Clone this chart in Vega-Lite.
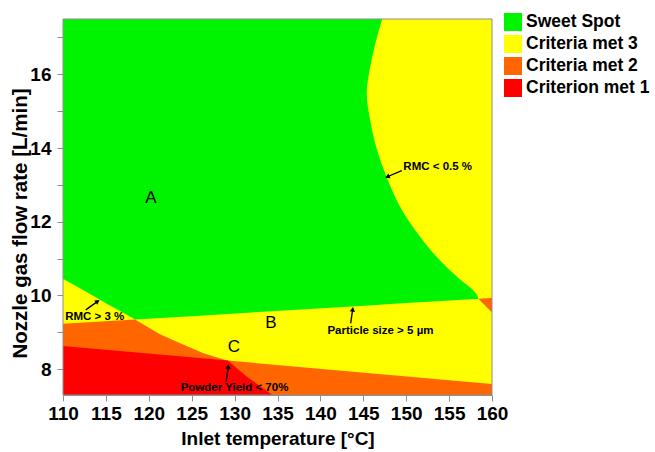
{
  "$schema": "https://vega.github.io/schema/vega-lite/v6.json",
  "width": 429,
  "height": 376,
  "autosize": "none",
  "padding": {"left": 63, "top": 19, "right": 163, "bottom": 57},
  "background": "white",
  "config": {
    "view": {"stroke": null},
    "font": "Liberation Sans",
    "axis": {
      "grid": false,
      "domainColor": "#8f8f8f",
      "tickColor": "#8f8f8f",
      "labelFont": "Liberation Sans",
      "labelFontWeight": "bold",
      "labelFontSize": 19,
      "labelColor": "black",
      "titleFont": "Liberation Sans",
      "titleFontWeight": "bold",
      "titleFontSize": 19,
      "titleColor": "black"
    }
  },
  "datasets": {
    "bg": [{"x1": 110, "x2": 160, "y1": 7.3, "y2": 17.5, "cat": "Criteria met 3"}],
    "green": [
      {"y": 9.35, "xl": 118.4, "xr": 118.4, "cat": "Sweet Spot"},
      {"y": 9.6, "xl": 116.49, "xr": 136.28, "cat": "Sweet Spot"},
      {"y": 9.88, "xl": 114.35, "xr": 156.16, "cat": "Sweet Spot"},
      {"y": 9.91, "xl": 114.12, "xr": 158.4, "cat": "Sweet Spot"},
      {"y": 10.43, "xl": 110.15, "xr": 156.3, "cat": "Sweet Spot"},
      {"y": 10.45, "xl": 110, "xr": 156.2, "cat": "Sweet Spot"},
      {"y": 10.96, "xl": 110, "xr": 153.9, "cat": "Sweet Spot"},
      {"y": 11.6, "xl": 110, "xr": 151.6, "cat": "Sweet Spot"},
      {"y": 12.32, "xl": 110, "xr": 149.5, "cat": "Sweet Spot"},
      {"y": 13.22, "xl": 110, "xr": 147.7, "cat": "Sweet Spot"},
      {"y": 13.95, "xl": 110, "xr": 146.6, "cat": "Sweet Spot"},
      {"y": 14.76, "xl": 110, "xr": 145.8, "cat": "Sweet Spot"},
      {"y": 15.48, "xl": 110, "xr": 145.4, "cat": "Sweet Spot"},
      {"y": 16.2, "xl": 110, "xr": 145.8, "cat": "Sweet Spot"},
      {"y": 16.83, "xl": 110, "xr": 146.4, "cat": "Sweet Spot"},
      {"y": 17.5, "xl": 110, "xr": 147.2, "cat": "Sweet Spot"}
    ],
    "orangeLeft": [
      {"x": 110, "lo": 7.3, "hi": 9.23, "cat": "Criteria met 2"},
      {"x": 118.4, "lo": 7.3, "hi": 9.348, "cat": "Criteria met 2"},
      {"x": 121.3, "lo": 7.3, "hi": 8.95, "cat": "Criteria met 2"},
      {"x": 123, "lo": 7.3, "hi": 8.77, "cat": "Criteria met 2"},
      {"x": 126.3, "lo": 7.3, "hi": 8.44, "cat": "Criteria met 2"},
      {"x": 129.3, "lo": 7.3, "hi": 8.22, "cat": "Criteria met 2"},
      {"x": 131.4, "lo": 7.3, "hi": 7.8, "cat": "Criteria met 2"},
      {"x": 134.4, "lo": 7.3, "hi": 7.3, "cat": "Criteria met 2"}
    ],
    "orangeBottom": [
      {"x": 110, "lo": 7.3, "hi": 8.63, "cat": "Criteria met 2"},
      {"x": 160, "lo": 7.3, "hi": 7.6, "cat": "Criteria met 2"}
    ],
    "orangeTopRight": [
      {"x": 158.4, "lo": 9.91, "hi": 9.91, "cat": "Criteria met 2"},
      {"x": 160, "lo": 9.54, "hi": 9.934, "cat": "Criteria met 2"}
    ],
    "red": [
      {"x": 110, "lo": 7.3, "hi": 8.63, "cat": "Criterion met 1"},
      {"x": 129.2, "lo": 7.3, "hi": 8.235, "cat": "Criterion met 1"},
      {"x": 131.4, "lo": 7.3, "hi": 7.8, "cat": "Criterion met 1"},
      {"x": 134.4, "lo": 7.3, "hi": 7.3, "cat": "Criterion met 1"}
    ],
    "letters": [
      {"x": 120.26, "y": 12.64, "text": "A"},
      {"x": 134.24, "y": 9.24, "text": "B"},
      {"x": 129.93, "y": 8.59, "text": "C"}
    ],
    "notes": [
      {"x": 113.7, "y": 9.42, "text": "RMC > 3 %"},
      {"x": 147.0, "y": 9.04, "text": "Particle size > 5 µm"},
      {"x": 129.99, "y": 7.48, "text": "Powder Yield < 70%"},
      {"x": 153.67, "y": 13.49, "text": "RMC < 0.5 %"}
    ],
    "arrows": [
      {"id": "rmc3", "xs": 112.65, "ys": 9.61, "xe": 114.04, "ye": 9.84},
      {"id": "ps", "xs": 143.53, "ys": 9.245, "xe": 143.76, "ye": 9.625},
      {"id": "py", "xs": 129.0, "ys": 7.66, "xe": 129.27, "ye": 8.07},
      {"id": "rmc05", "xs": 149.48, "ys": 13.385, "xe": 147.8, "ye": 13.22}
    ]
  },
  "layer": [
    {
      "data": {"name": "bg"},
      "mark": {"type": "rect"},
      "encoding": {
        "x": {
          "field": "x1", "type": "quantitative",
          "scale": {"domain": [110, 160], "nice": false, "zero": false},
          "title": "Inlet temperature [°C]",
          "axis": {
            "values": [110, 112.5, 115, 117.5, 120, 122.5, 125, 127.5, 130, 132.5, 135, 137.5, 140, 142.5, 145, 147.5, 150, 152.5, 155, 157.5, 160],
            "labelExpr": "datum.value % 5 === 0 ? datum.label : ''",
            "tickSize": {"condition": {"test": "datum.value % 5 === 0", "value": 6}, "value": 4},
            "labelOverlap": false,
            "labelFlush": false,
            "labelPadding": 3,
            "titlePadding": 6
          }
        },
        "x2": {"field": "x2"},
        "y": {
          "field": "y1", "type": "quantitative",
          "scale": {"domain": [7.3, 17.5], "nice": false, "zero": false},
          "title": "Nozzle gas flow rate [L/min]",
          "axis": {
            "values": [8, 9, 10, 11, 12, 13, 14, 15, 16, 17],
            "labelExpr": "datum.value % 2 === 0 ? datum.label : ''",
            "tickSize": 6,
            "labelOverlap": false,
            "labelFlush": false,
            "labelPadding": 6,
            "titleFontSize": 20.5,
            "titleX": -43,
            "titleY": 204,
            "titleAlign": "center",
            "titleBaseline": "middle"
          }
        },
        "y2": {"field": "y2"},
        "color": {
          "field": "cat", "type": "nominal",
          "scale": {
            "domain": ["Sweet Spot", "Criteria met 3", "Criteria met 2", "Criterion met 1"],
            "range": ["#00f400", "#ffff00", "#ff6600", "#ff0000"]
          },
          "legend": {
            "orient": "none",
            "legendX": 441,
            "legendY": -6,
            "title": null,
            "symbolType": "square",
            "symbolSize": 324,
            "symbolStrokeWidth": 0,
            "symbolOpacity": 1,
            "labelFont": "Liberation Sans",
            "labelFontWeight": "bold",
            "labelFontSize": 17.5,
            "labelColor": "black",
            "labelLimit": 300,
            "rowPadding": 4,
            "padding": 0,
            "labelOffset": 4
          }
        }
      }
    },
    {
      "data": {"name": "orangeLeft"},
      "mark": {"type": "area", "orient": "vertical"},
      "encoding": {
        "x": {"field": "x", "type": "quantitative", "title": "Inlet temperature [°C]"},
        "y": {"field": "lo", "type": "quantitative", "title": "Nozzle gas flow rate [L/min]"},
        "y2": {"field": "hi"},
        "color": {"field": "cat", "type": "nominal"}
      }
    },
    {
      "data": {"name": "orangeBottom"},
      "mark": {"type": "area", "orient": "vertical"},
      "encoding": {
        "x": {"field": "x", "type": "quantitative", "title": "Inlet temperature [°C]"},
        "y": {"field": "lo", "type": "quantitative", "title": "Nozzle gas flow rate [L/min]"},
        "y2": {"field": "hi"},
        "color": {"field": "cat", "type": "nominal"}
      }
    },
    {
      "data": {"name": "orangeTopRight"},
      "mark": {"type": "area", "orient": "vertical"},
      "encoding": {
        "x": {"field": "x", "type": "quantitative", "title": "Inlet temperature [°C]"},
        "y": {"field": "lo", "type": "quantitative", "title": "Nozzle gas flow rate [L/min]"},
        "y2": {"field": "hi"},
        "color": {"field": "cat", "type": "nominal"}
      }
    },
    {
      "data": {"name": "red"},
      "mark": {"type": "area", "orient": "vertical"},
      "encoding": {
        "x": {"field": "x", "type": "quantitative", "title": "Inlet temperature [°C]"},
        "y": {"field": "lo", "type": "quantitative", "title": "Nozzle gas flow rate [L/min]"},
        "y2": {"field": "hi"},
        "color": {"field": "cat", "type": "nominal"}
      }
    },
    {
      "data": {"name": "green"},
      "mark": {"type": "area", "orient": "horizontal", "interpolate": "monotone"},
      "encoding": {
        "y": {"field": "y", "type": "quantitative", "title": "Nozzle gas flow rate [L/min]"},
        "x": {"field": "xl", "type": "quantitative", "title": "Inlet temperature [°C]"},
        "x2": {"field": "xr"},
        "color": {"field": "cat", "type": "nominal"}
      }
    },
    {
      "data": {"name": "bg"},
      "mark": {"type": "rect", "filled": false, "stroke": "#8f8f8f", "strokeWidth": 1},
      "encoding": {
        "x": {"field": "x1", "type": "quantitative", "title": "Inlet temperature [°C]"},
        "x2": {"field": "x2"},
        "y": {"field": "y1", "type": "quantitative", "title": "Nozzle gas flow rate [L/min]"},
        "y2": {"field": "y2"}
      }
    },
    {
      "data": {"name": "letters"},
      "mark": {"type": "text", "font": "Liberation Sans", "fontSize": 17, "color": "black", "align": "center", "baseline": "middle"},
      "encoding": {
        "x": {"field": "x", "type": "quantitative", "title": "Inlet temperature [°C]"},
        "y": {"field": "y", "type": "quantitative", "title": "Nozzle gas flow rate [L/min]"},
        "text": {"field": "text"}
      }
    },
    {
      "data": {"name": "notes"},
      "mark": {"type": "text", "font": "Liberation Sans", "fontWeight": "bold", "fontSize": 11.5, "color": "black", "align": "center", "baseline": "middle"},
      "encoding": {
        "x": {"field": "x", "type": "quantitative", "title": "Inlet temperature [°C]"},
        "y": {"field": "y", "type": "quantitative", "title": "Nozzle gas flow rate [L/min]"},
        "text": {"field": "text"}
      }
    },
    {
      "data": {"name": "arrows"},
      "mark": {"type": "rule", "color": "black", "strokeWidth": 1.3},
      "encoding": {
        "x": {"field": "xs", "type": "quantitative", "title": "Inlet temperature [°C]"},
        "y": {"field": "ys", "type": "quantitative", "title": "Nozzle gas flow rate [L/min]"},
        "x2": {"field": "xe"},
        "y2": {"field": "ye"}
      }
    },
    {
      "data": {"name": "arrows"},
      "transform": [{"filter": "datum.id === 'rmc3'"}],
      "mark": {"type": "point", "shape": "triangle-up", "filled": true, "color": "black", "size": 28, "angle": 55, "opacity": 1},
      "encoding": {
        "x": {"field": "xe", "type": "quantitative", "title": "Inlet temperature [°C]"},
        "y": {"field": "ye", "type": "quantitative", "title": "Nozzle gas flow rate [L/min]"}
      }
    },
    {
      "data": {"name": "arrows"},
      "transform": [{"filter": "datum.id === 'ps'"}],
      "mark": {"type": "point", "shape": "triangle-up", "filled": true, "color": "black", "size": 28, "angle": 8, "opacity": 1},
      "encoding": {
        "x": {"field": "xe", "type": "quantitative", "title": "Inlet temperature [°C]"},
        "y": {"field": "ye", "type": "quantitative", "title": "Nozzle gas flow rate [L/min]"}
      }
    },
    {
      "data": {"name": "arrows"},
      "transform": [{"filter": "datum.id === 'py'"}],
      "mark": {"type": "point", "shape": "triangle-up", "filled": true, "color": "black", "size": 28, "angle": 9, "opacity": 1},
      "encoding": {
        "x": {"field": "xe", "type": "quantitative", "title": "Inlet temperature [°C]"},
        "y": {"field": "ye", "type": "quantitative", "title": "Nozzle gas flow rate [L/min]"}
      }
    },
    {
      "data": {"name": "arrows"},
      "transform": [{"filter": "datum.id === 'rmc05'"}],
      "mark": {"type": "point", "shape": "triangle-up", "filled": true, "color": "black", "size": 28, "angle": 247, "opacity": 1},
      "encoding": {
        "x": {"field": "xe", "type": "quantitative", "title": "Inlet temperature [°C]"},
        "y": {"field": "ye", "type": "quantitative", "title": "Nozzle gas flow rate [L/min]"}
      }
    }
  ]
}
